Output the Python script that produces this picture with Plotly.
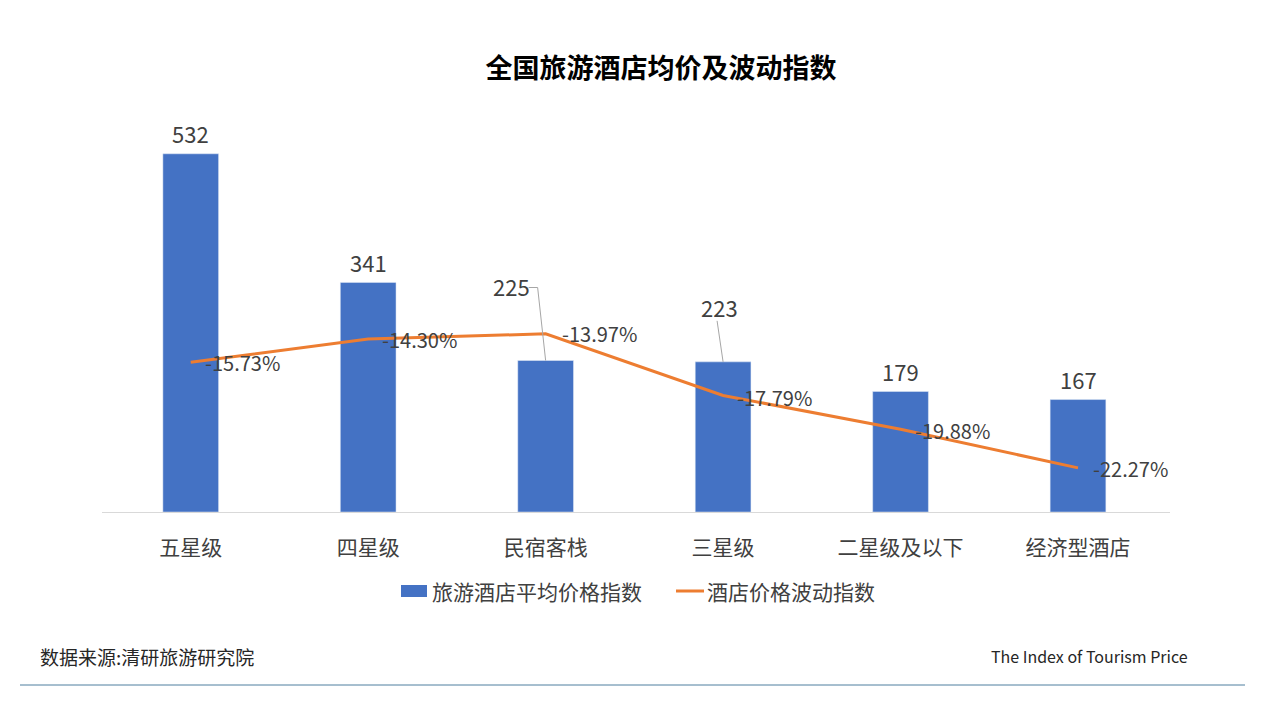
import plotly.graph_objects as go

categories = ['五星级', '四星级', '民宿客栈', '三星级', '二星级及以下', '经济型酒店']
price_index = [532, 341, 225, 223, 179, 167]
volatility = [-15.73, -14.30, -13.97, -17.79, -19.88, -22.27]

FONT = 'Noto Sans CJK SC'
GREY = '#404040'
BLUE = '#4472C4'
ORANGE = '#ED7D31'

# plot area in page pixels, the browser adds 8px around the figure
LEFT, TOP, W, H = 102, 108, 1068, 404


def px(x):
    return (x - LEFT) / W


def py(y):
    return (TOP + H - y) / H


fig = go.Figure()
fig.add_trace(go.Bar(x=categories, y=price_index, name='旅游酒店平均价格指数',
                     marker_color=BLUE, width=0.314))
fig.add_trace(go.Scatter(x=categories, y=volatility, name='酒店价格波动指数', yaxis='y2',
                         mode='lines', line=dict(color=ORANGE, width=3)))

# bar labels, two of them are pulled off the bar with a leader line
bar_shift = [(0, 21), (0, 20), (-34, 75), (-4, 55), (0, 20), (0, 21)]
for c, v, (dx, dy) in zip(categories, price_index, bar_shift):
    fig.add_annotation(x=c, y=v, text=str(v), showarrow=False, xshift=dx, yshift=dy,
                       font=dict(family=FONT, size=22, color=GREY))

# line labels sit right of the points
line_shift = [(12, 0), (12, 0), (14, 0), (12, -2), (12, -1), (13, -1)]
for c, v, (dx, dy) in zip(categories, volatility, line_shift):
    fig.add_annotation(x=c, y=v, yref='y2', text=f'{v:.2f}%', showarrow=False, xanchor='left',
                       xshift=dx, yshift=dy, font=dict(family=FONT, size=20, color=GREY))

# leader lines
leader = dict(color='#A6A6A6', width=1)
fig.add_shape(type='line', xref='x', yref='y', xsizemode='pixel', ysizemode='pixel',
              xanchor='民宿客栈', yanchor=225, x0=-17, x1=-8, y0=73, y1=73, line=leader)
fig.add_shape(type='line', xref='x', yref='y', xsizemode='pixel', ysizemode='pixel',
              xanchor='民宿客栈', yanchor=225, x0=-8, x1=0, y0=73, y1=0, line=leader)
fig.add_shape(type='line', xref='x', yref='y', xsizemode='pixel', ysizemode='pixel',
              xanchor='三星级', yanchor=223, x0=-6, x1=0, y0=41, y1=0, line=leader)

# legend drawn by hand, the built in one can't do the wide swatch
fig.add_shape(type='rect', xref='paper', yref='paper', x0=px(401), x1=px(427), y0=py(597), y1=py(585),
              fillcolor=BLUE, line_width=0)
fig.add_annotation(xref='paper', yref='paper', x=px(430), y=py(591), xanchor='left', yanchor='middle',
                   text='旅游酒店平均价格指数', showarrow=False,
                   font=dict(family=FONT, size=21, color=GREY))
fig.add_shape(type='line', xref='paper', yref='paper', x0=px(676), x1=px(704), y0=py(591), y1=py(591),
              line=dict(color=ORANGE, width=3))
fig.add_annotation(xref='paper', yref='paper', x=px(705), y=py(591), xanchor='left', yanchor='middle',
                   text='酒店价格波动指数', showarrow=False,
                   font=dict(family=FONT, size=21, color=GREY))

# footer
fig.add_annotation(xref='paper', yref='paper', x=px(38), y=py(656), xanchor='left', yanchor='middle',
                   text='数据来源:清研旅游研究院', showarrow=False,
                   font=dict(family=FONT, size=19, color='#262626'))
fig.add_annotation(xref='paper', yref='paper', x=px(1190), y=py(656), xanchor='right', yanchor='middle',
                   text='The Index of Tourism Price', showarrow=False,
                   font=dict(family=FONT, size=16, color='#262626'))
fig.add_shape(type='line', xref='paper', yref='paper', x0=px(20), x1=px(1245), y0=py(685), y1=py(685),
              line=dict(color='#4F7F9F', width=1))

fig.update_layout(
    width=1264, height=704,
    margin=dict(l=LEFT - 8, r=1264 - (LEFT - 8) - W, t=TOP - 8, b=704 - (TOP - 8) - H),
    paper_bgcolor='white', plot_bgcolor='white',
    font=dict(family=FONT, color=GREY),
    title=dict(text='<b>全国旅游酒店均价及波动指数</b>', x=653 / 1264, y=1 - 61 / 704,
               xanchor='center', yanchor='middle',
               font=dict(family=FONT, size=27, color='black')),
    xaxis=dict(type='category', showline=True, linecolor='#D9D9D9', linewidth=1, ticks='',
               ticklabelstandoff=17, tickfont=dict(size=21, color=GREY), showgrid=False),
    yaxis=dict(range=[0, 600], visible=False, showgrid=False),
    yaxis2=dict(range=[-25, 0], overlaying='y', side='right', visible=False, showgrid=False),
    showlegend=False,
)

fig.write_html('out.html')
